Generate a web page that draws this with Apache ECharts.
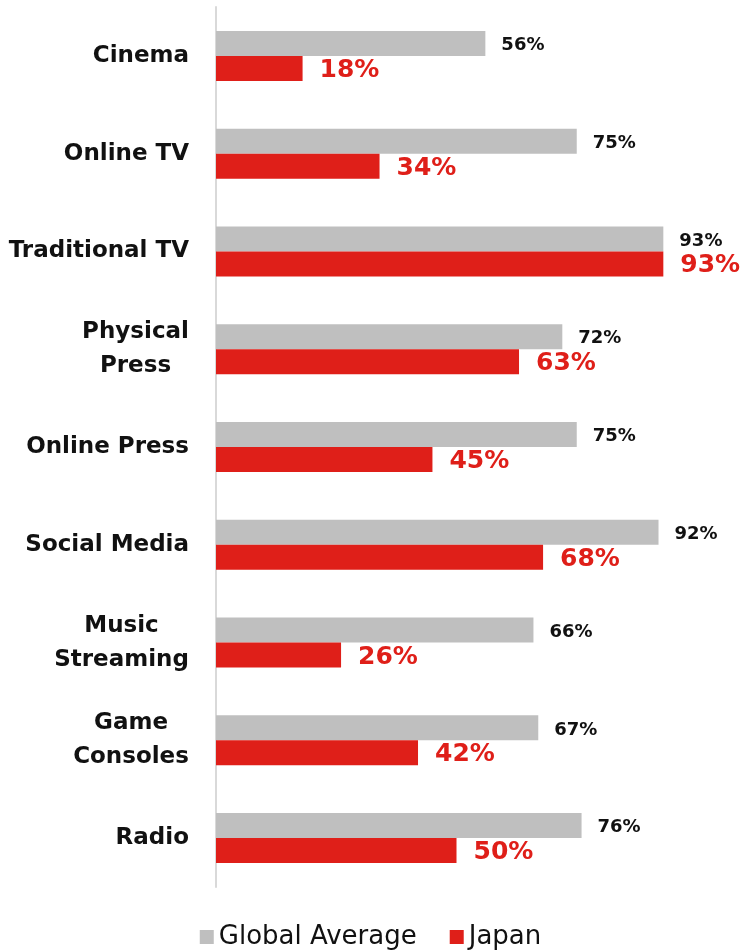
<!DOCTYPE html>
<html>
<head>
<meta charset="utf-8">
<script src="https://cdn.jsdelivr.net/npm/echarts@6/dist/echarts.min.js"></script>
<style>
  html, body { margin: 0; padding: 0; background: #ffffff; }
  #chart { width: 741px; height: 951px; }
</style>
</head>
<body>
<div id="chart"></div>
<script>
// Media usage share by channel
const categories = ['Cinema', 'Online TV', 'Traditional TV', 'Physical\nPress', 'Online Press',
  'Social Media', 'Music\nStreaming', 'Game\nConsoles', 'Radio'];
const globalAverage = [56, 75, 93, 72, 75, 92, 66, 67, 76];
const japan = [18, 34, 93, 63, 45, 68, 26, 42, 50];
const seriesNames = ['Global Average', 'Japan'];

const FONT = '"DejaVu Sans", sans-serif';
const CAT_SIZE = 23;

// Multi-line category names are centred line by line, the block sits right-aligned
const measureCtx = document.createElement('canvas').getContext('2d');
measureCtx.font = 'bold ' + CAT_SIZE + 'px ' + FONT;
const catRich = {};
categories.forEach(function (name, i) {
  const lines = name.split('\n');
  const w = Math.max.apply(null, lines.map(function (l) { return measureCtx.measureText(l).width; }));
  catRich['c' + i] = { width: Math.ceil(w), align: 'center' };
});
function catFormatter(value) {
  const lines = value.split('\n');
  if (lines.length === 1) return value;
  const idx = categories.indexOf(value);
  return lines.map(function (l) { return '{c' + idx + '|' + l + '}'; }).join('\n');
}

const chart = echarts.init(document.getElementById('chart'), null, { renderer: 'canvas' });
chart.setOption({
  backgroundColor: '#ffffff',
  animation: false,
  grid: { left: 216, right: 44, top: 7, bottom: 64, containLabel: false },
  legend: {
    top: 919,
    left: 'center',
    itemWidth: 14,
    itemHeight: 14,
    itemGap: 33,
    icon: 'rect',
    textStyle: { fontFamily: FONT, fontSize: 26, color: '#111111', padding: [0, 0, 0, 0] },
    data: seriesNames
  },
  xAxis: {
    type: 'value',
    min: 0,
    max: 100,
    show: false
  },
  yAxis: {
    type: 'category',
    inverse: true,
    data: categories,
    axisLine: { show: true, lineStyle: { color: '#d9d9d9', width: 2 } },
    axisTick: { show: false },
    axisLabel: {
      margin: 27,
      fontFamily: FONT,
      fontWeight: 'bold',
      fontSize: CAT_SIZE,
      lineHeight: 34,
      color: '#111111',
      align: 'right',
      formatter: catFormatter,
      rich: catRich
    }
  },
  series: [
    {
      name: seriesNames[0],
      type: 'bar',
      data: globalAverage,
      barWidth: 25,
      barGap: '0%',
      itemStyle: { color: '#bfbfbf' },
      label: {
        show: true,
        position: 'right',
        distance: 16,
        formatter: '{c}%',
        fontFamily: FONT,
        fontWeight: 'bold',
        fontSize: 18,
        color: '#111111',
        offset: [0, 2]
      }
    },
    {
      name: seriesNames[1],
      type: 'bar',
      data: japan,
      barWidth: 25,
      barGap: '0%',
      itemStyle: { color: '#df1f19' },
      label: {
        show: true,
        position: 'right',
        distance: 17,
        formatter: '{c}%',
        fontFamily: FONT,
        fontWeight: 'bold',
        fontSize: 25,
        color: '#df1f19',
        offset: [0, 2]
      }
    }
  ]
});
</script>
</body>
</html>
